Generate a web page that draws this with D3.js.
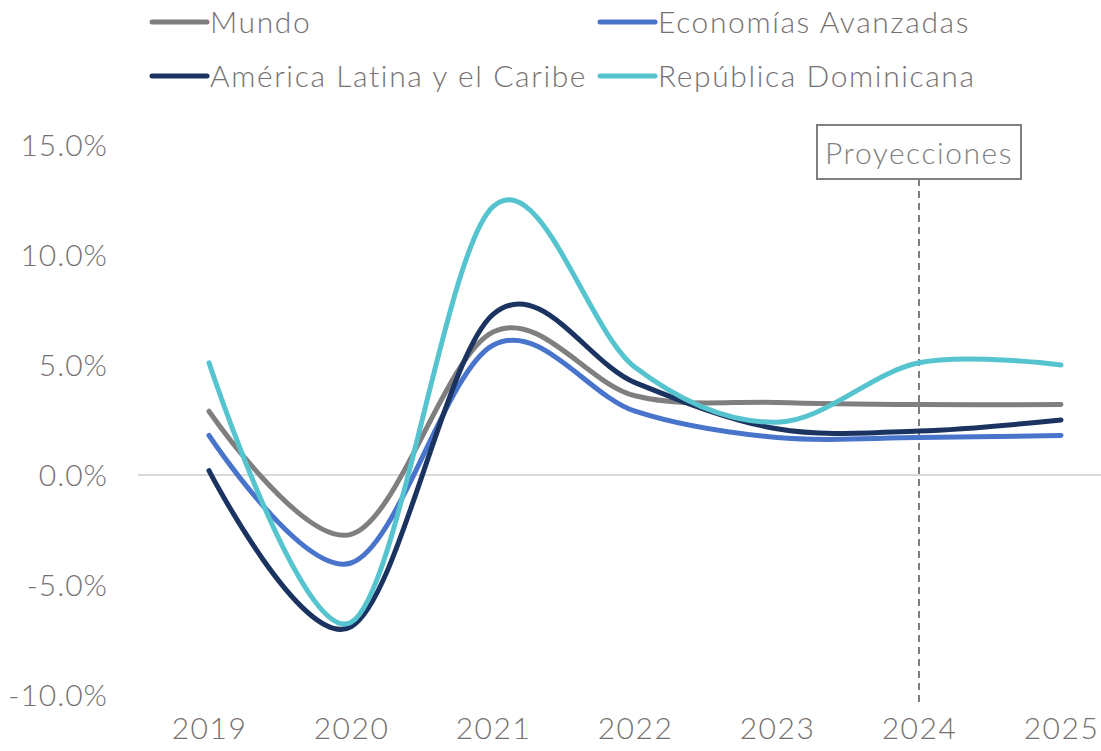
<!DOCTYPE html>
<html>
<head>
<meta charset="utf-8">
<script src="https://d3js.org/d3.v7.min.js"></script>
<style>
  body { margin: 0; background: #fff; }
  svg text { font-family: Lato, "Open Sans", sans-serif; font-weight: 300; fill: #767171; }
</style>
</head>
<body>
<svg width="1101" height="751"></svg>
<script>
const years = ['2019', '2020', '2021', '2022', '2023', '2024', '2025'];
const mundo = [2.9, -2.7, 6.5, 3.6, 3.3, 3.2, 3.2];
const avanzadas = [1.8, -4.0, 5.9, 2.9, 1.7, 1.7, 1.8];
const alc = [0.2, -6.9, 7.3, 4.2, 2.1, 2.0, 2.5];
const rd = [5.1, -6.7, 12.2, 4.9, 2.4, 5.1, 5.0];
const yTicks = [-10, -5, 0, 5, 10, 15];
const projYear = '2024';

const series = [
	{ name: 'Mundo', values: mundo, color: '#7f7f7f' },
	{ name: 'Economías Avanzadas', values: avanzadas, color: '#4874cb' },
	{ name: 'América Latina y el Caribe', values: alc, color: '#1b3361' },
	{ name: 'República Dominicana', values: rd, color: '#56c4cf' }
];

const svg = d3.select('svg');
const width = +svg.attr('width');
const height = +svg.attr('height');

const xS = d3.scalePoint()
			.domain(years)
			.range([209, 1061]);
const yS = d3.scaleLinear()
			.domain([-10, 15])
			.range([695, 145]);

// y axis labels, no line
const yAxis = d3.axisLeft(yS)
				.tickValues(yTicks)
				.tickSize(0)
				.tickPadding(0)
				.tickFormat(d => d.toFixed(1) + '%');
const yag = svg.append('g')
				.attr('transform', 'translate(108, 0)')
				.call(yAxis);
yag.select('.domain').remove();
yag.selectAll('text')
	.attr('font-size', 30)
	.attr('letter-spacing', 1)
	.attr('dy', '0.35em')
	.style('font-family', null);

const xAxis = d3.axisBottom(xS)
				.tickSize(0)
				.tickPadding(0);
const xag = svg.append('g')
				.attr('transform', 'translate(0, 718)')
				.call(xAxis);
xag.select('.domain').remove();
xag.selectAll('text')
	.attr('font-size', 30)
	.attr('letter-spacing', 1.5)
	.attr('dy', '0.71em')
	.style('font-family', null);

// zero line
svg.append('line')
	.attr('x1', 138)
	.attr('x2', width)
	.attr('y1', yS(0))
	.attr('y2', yS(0))
	.attr('stroke', '#d9d9d9')
	.attr('stroke-width', 2);

// projection marker
svg.append('line')
	.attr('x1', xS(projYear))
	.attr('x2', xS(projYear))
	.attr('y1', 179)
	.attr('y2', 706)
	.attr('stroke', '#7f7f7f')
	.attr('stroke-width', 2)
	.attr('stroke-dasharray', '7,5');

const line = d3.line()
				.x((d, i) => xS(years[i]))
				.y(d => yS(d))
				.curve(d3.curveCardinal.tension(0));

const g = svg.append('g');
g.selectAll('path')
	.data(series)
	.enter()
	.append('path')
	.attr('d', d => line(d.values))
	.attr('fill', 'none')
	.attr('stroke', d => d.color)
	.attr('stroke-width', 5)
	.attr('stroke-linecap', 'round')
	.attr('stroke-linejoin', 'round');

// projection label box
svg.append('rect')
	.attr('x', 817)
	.attr('y', 125)
	.attr('width', 204)
	.attr('height', 54)
	.attr('fill', '#fff')
	.attr('stroke', '#7f7f7f')
	.attr('stroke-width', 2);
svg.append('text')
	.attr('x', xS(projYear))
	.attr('y', 153)
	.attr('dy', '0.35em')
	.attr('text-anchor', 'middle')
	.attr('font-size', 30)
	.attr('letter-spacing', 1.5)
	.style('fill', '#7f7f7f')
	.text('Proyecciones');

// legend
const legendPos = [[152, 22], [600, 22], [152, 76], [600, 76]];
const legend = svg.selectAll('.legend')
	.data(series)
	.enter()
	.append('g')
	.attr('class', 'legend')
	.attr('transform', (d, i) => `translate(${legendPos[i][0]}, ${legendPos[i][1]})`);
legend.append('line')
	.attr('x1', 0)
	.attr('x2', 55)
	.attr('stroke', d => d.color)
	.attr('stroke-width', 5)
	.attr('stroke-linecap', 'round');
legend.append('text')
	.attr('x', 58)
	.attr('dy', '0.35em')
	.attr('font-size', 30)
	.attr('letter-spacing', 1.6)
	.text(d => d.name);
</script>
</body>
</html>
